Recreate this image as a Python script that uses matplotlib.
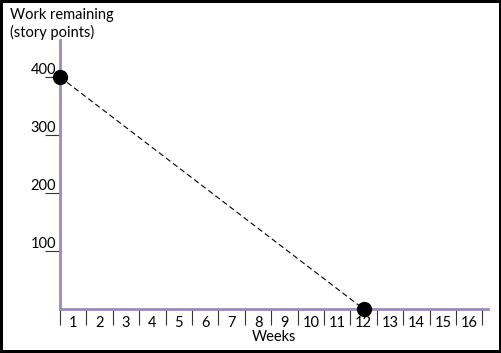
import matplotlib.pyplot as plt
from matplotlib.ticker import FixedLocator, NullFormatter

plt.rcParams['font.family'] = ['Lato', 'DejaVu Sans']

# burndown points: start of week 1 and middle of week 12
weeks = [0, 11.5]
remaining = [400, 0]
week_labels = [str(i) for i in range(1, 17)]
y_ticks = [100, 200, 300, 400]

axis_col = '#9d8ab9'

fig = plt.figure(figsize=(5.02, 3.53), dpi=100)
fig.patch.set_edgecolor('black')
fig.patch.set_linewidth(3)

# axes placed in pixels of the original picture
W, H = 502, 353
ax = fig.add_axes([60 / W, (H - 309) / H, (488 - 60) / W, (309 - 40) / H])
ax.set_xlim(0, 16.21)
ax.set_ylim(0, 463.8)

ax.plot(weeks, remaining, color='black', lw=0.8, ls=(0, (5, 3)),
        marker='o', ms=10, clip_on=False, zorder=5)

for s in ['top', 'right']:
    ax.spines[s].set_visible(False)
for s in ['left', 'bottom']:
    ax.spines[s].set_color(axis_col)
    ax.spines[s].set_linewidth(2)

# x: cell borders as ticks, week numbers in the middle of each cell
ax.xaxis.set_major_locator(FixedLocator(range(0, 17)))
ax.xaxis.set_major_formatter(NullFormatter())
ax.xaxis.set_minor_locator(FixedLocator([i + 0.5 for i in range(16)]))
ax.set_xticklabels(week_labels, minor=True)
ax.tick_params(axis='x', which='major', direction='out', length=11.5,
               width=0.8, color='#333333')
ax.tick_params(axis='x', which='minor', length=0, pad=5, labelsize=10.5)
ax.set_xlabel('Weeks', fontsize=10.5, labelpad=0)

# y: labels sit on top of short tick lines
ax.set_yticks(y_ticks)
ax.set_yticklabels([str(v) for v in y_ticks])
ax.tick_params(axis='y', direction='out', length=11, width=0.8,
               color='#333333', pad=-8, labelsize=10.5)
for lab in ax.get_yticklabels():
    lab.set_va('bottom')

fig.text(10 / W, 1 - 8 / H, 'Work remaining\n(story points)', ha='left',
         va='top', fontsize=10.5, linespacing=1.25)

fig.savefig('out.png', dpi=100)
